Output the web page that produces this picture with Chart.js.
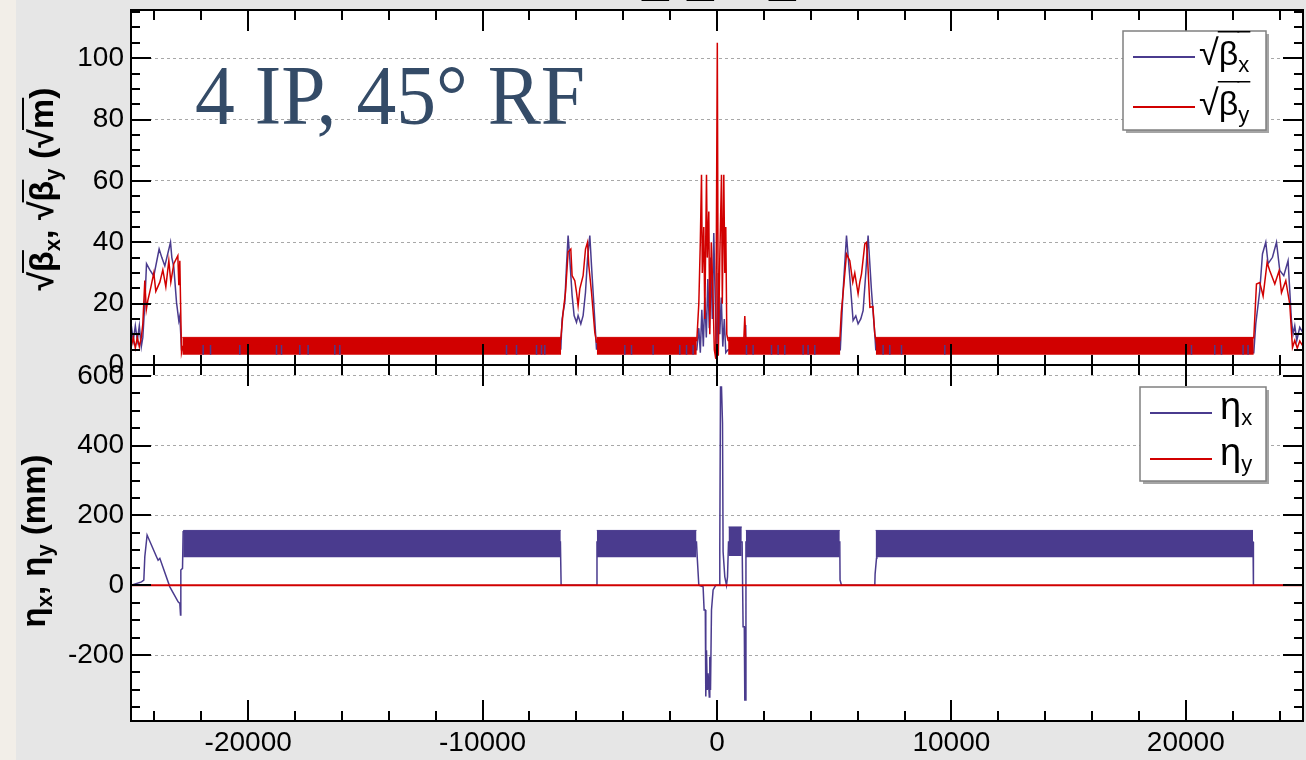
<!DOCTYPE html>
<html>
<head>
<meta charset="utf-8">
<script src="https://cdn.jsdelivr.net/npm/chart.js@4.4.1/dist/chart.umd.min.js"></script>
<style>
  html, body { margin: 0; padding: 0; }
  body { width: 1306px; height: 760px; overflow: hidden; position: relative; background: #e6e6e6; }
  #marble { position: absolute; left: 0; top: 0; width: 16px; height: 760px; background: #f2eee8; }
  canvas { position: absolute; left: 0; top: 0; }
</style>
</head>
<body>
<div id="marble"></div>
<canvas id="betaChart" width="1306" height="760"></canvas>
<canvas id="etaChart" width="1306" height="760"></canvas>
<script>
'use strict';

// ---- data (s in m) ----
var xTickLabels = [-20000, -10000, 0, 10000, 20000];
var betaTicks = [0, 20, 40, 60, 80, 100];
var etaTicks = [-200, 0, 200, 400, 600];

// sqrt(beta_x) in the insertions
var sBetaX = [-24986, -24901, -24815, -24730, -24645, -24560, -24496, -24411, -24338, -24197, -24027, -23800, -23685, -23557, -23314, -23258, -23173, -23058, -22960, -22917, -22845, -22790,
  -6664, -6608, -6493, -6420, -6352, -6280, -6181, -6096, -5994, -5926, -5810, -5712, -5610, -5524, -5426, -5354, -5243, -5141,
  -862, -776, -712, -648, -584, -520, -456, -392, -328, -264, -200, -137, -73, -9, 55, 119, 183, 247, 311, 375, 474, 1190, 1207, 1225,
  5260, 5380, 5525, 5665, 5806, 5921, 6019, 6134, 6233, 6348, 6446, 6591, 6732, 6774,
  22900, 22985, 23156, 23271, 23412, 23510, 23698, 23869, 24009, 24180, 24363, 24508, 24577, 24649, 24734, 24862, 24990];
var betaX = [12.8, 8, 12.8, 8, 12.8, 6, 9, 20, 33, 31, 29, 37.8, 35, 32.3, 40, 35, 31.8, 20.4, 14.4, 16, 5, 5,
  5.2, 15, 20.4, 32.4, 42.2, 34.6, 22.6, 16.1, 13.9, 16.1, 13.4, 16.1, 23.7, 34.6, 42.2, 32.4, 18.3, 5.2,
  5, 12, 4, 18, 6, 22, 9, 28, 12, 35, 15, 43, 20, 1, 30, 10, 22, 6, 15, 4, 5, 5, 13, 5,
  5, 24.2, 42.2, 28.6, 14.5, 16, 13.4, 15, 17.7, 30, 42.2, 24.2, 10.1, 5,
  4, 13.4, 24.2, 36.2, 40, 33, 35.1, 40, 30.8, 29.1, 34, 14.5, 10.1, 12.8, 8, 12.3, 10.6];

// sqrt(beta_y) in the insertions
var sBetaY = [-24986, -24901, -24815, -24730, -24645, -24560, -24496, -24411, -24347, -24283, -24155, -24027, -23941, -23770, -23642, -23514, -23386, -23301, -23173, -23002, -22960, -22917, -22887, -22845, -22790,
  -6664, -6566, -6463, -6352, -6237, -6181, -6066, -5994, -5926, -5853, -5712, -5610, -5524, -5469, -5354, -5213, -5141,
  -862, -776, -712, -661, -627, -563, -520, -448, -414, -350, -307, -243, -179, -115, -51, 13, 55, 119, 192, 226, 290, 333, 375, 418, 474, 1143, 1186, 1229,
  5239, 5303, 5410, 5525, 5601, 5665, 5793, 5878, 6019, 6092, 6165, 6306, 6378, 6434, 6523, 6651, 6732, 6804,
  22900, 23015, 23156, 23298, 23469, 23583, 23797, 23980, 24082, 24266, 24436, 24551, 24649, 24756, 24862, 24990];
var betaY = [6, 9, 5.5, 9, 6, 9, 13.3, 27.5, 18, 21, 25.3, 30, 24, 27, 31, 25.5, 34, 27, 33, 35.6, 26, 34, 20.9, 4, 6,
  8.5, 17.2, 23.7, 36.8, 37.8, 29.1, 27.5, 23.7, 19.3, 24.8, 29.1, 37.8, 40, 32.4, 23.7, 10.6, 7.4,
  8, 20, 40, 62, 30, 45, 15, 62, 35, 50, 10, 40, 25, 5, 2, 105, 3, 35, 62, 20, 62, 30, 45, 10, 8, 8, 16, 8,
  8, 17.2, 26, 36.2, 35, 34, 27, 30, 23.2, 27, 29.7, 39.5, 40, 33, 18.8, 19, 10.1, 7,
  8.9, 26.4, 26.9, 22.5, 33.4, 30.7, 26.4, 30.7, 23.6, 27.5, 19.8, 5.7, 8, 5.5, 7.8, 6.2];

// arc cells: sqrt(beta) oscillates inside a band
var betaBandStart = [-22810, -5128, 474, 6774];
var betaBandEnd = [-6650, -862, 5260, 22900];
var betaBandLow = 3.3;
var betaBandHigh = 9.0;
var betaXMarkTop = 6.5;
var betaXMarks = [-21923, -21607, -20358, -18792, -18579, -17798, -17444, -16305, -16092, -8980, -8553, -7700, -7487, -7346,
  -3933, -3647, -2726, -1587, -1301, -1020, 1258, 1540, 2325, 2607, 2892, 3673, 3886, 4172,
  7086, 7372, 7871, 9718, 20242, 21236, 21522, 22443, 22656];

// eta_x (mm)
var sEtaX = [-25000, -24551, -24453, -24411, -24313, -23912, -23844, -23770, -23343, -22989, -22917, -22887, -22874, -22802, -22776,
  -6680, -6650, -5140, -5120, -875, -840, -776, -593, -550, -499, -478, -448, -414, -380, -328, -307, -277, -235, -166, -94, -51,
  90, 119, 149, 192, 235, 260, 290, 333, 405, 448, 491, 1071, 1113, 1165, 1186, 1220, 1235,
  5239, 5250, 5311, 6732, 6745, 6804, 6820, 22867, 22885, 25000];
var etaX = [0, 9.7, 14.9, 81.6, 143.8, 81.6, 71.6, 77, -4.6, -47.6, -52, -85.4, 43.5, 48.3, 153,
  124, 0, 0, 124, 124, 76, 0, -4.3, -71, -71, -319, -186, -300, -252, -320, -205, -300, -71, -13.7, -4.6, 0,
  0, 110, 568, 568, 464, 96, 96, 24, 0, 24, 124, 124, -119, -119, -329, -329, 124,
  124, 14.9, 0, 0, 32, 77, 124, 124, 0, 0];
var etaBandStart = [-22776, -5128, 491, 1229, 6767];
var etaBandEnd = [-6664, -875, 1058, 5239, 22867];
var etaBandLow = [80, 80, 84, 80, 80];
var etaBandHigh = [157, 157, 167, 157, 157];

// eta_y (mm)
var sEtaY = [-25000, 25000];
var etaY = [0, 0];

// ---- styling ----
var BLUE = '#4a3b8e';
var RED = '#d10000';
var SANS = '"Liberation Sans", Arial, sans-serif';

function pts(xs, ys) {
	return xs.map(function (x, i) { return {x: x, y: ys[i]}; });
}

function drawRich(ctx, parts, x, y) {
	parts.forEach(function (p) {
		ctx.font = p.f;
		var w = ctx.measureText(p.t).width;
		if (p.bar) {
			ctx.fillRect(x - 1, y - p.bar, w + 2, p.lw || 2);
		}
		ctx.fillText(p.t, x, y + (p.dy || 0));
		x += w;
	});
	return x;
}

function richWidth(ctx, parts) {
	var w = 0;
	parts.forEach(function (p) { ctx.font = p.f; w += ctx.measureText(p.t).width; });
	return w;
}

function noPad(s) {
	s.paddingTop = 0; s.paddingBottom = 0; s.paddingLeft = 0; s.paddingRight = 0;
}

// white plot area, frame, inward ticks, axis title, legend box
var rootFrame = {
	id: 'rootFrame',
	beforeDraw: function (chart) {
		var a = chart.chartArea, ctx = chart.ctx;
		ctx.save();
		ctx.fillStyle = '#fff';
		ctx.fillRect(a.left, a.top, a.right - a.left, a.bottom - a.top);
		ctx.restore();
	},
	afterDraw: function (chart, args, o) {
		var a = chart.chartArea, ctx = chart.ctx, x = chart.scales.x, y = chart.scales.y, v, p, len;
		ctx.save();
		ctx.strokeStyle = '#000';
		ctx.lineWidth = 2;
		ctx.beginPath();
		for (v = Math.ceil(y.min / o.yMinor) * o.yMinor; v <= y.max; v += o.yMinor) {
			p = Math.round(y.getPixelForValue(v));
			len = Math.abs(v % o.yMajor) < 1e-6 ? 20 : 9;
			ctx.moveTo(a.left, p); ctx.lineTo(a.left + len, p);
			ctx.moveTo(a.right, p); ctx.lineTo(a.right - len, p);
		}
		for (v = Math.ceil(x.min / o.xMinor) * o.xMinor; v <= x.max; v += o.xMinor) {
			p = Math.round(x.getPixelForValue(v));
			len = Math.abs(v % o.xMajor) < 1e-6 ? 21 : 10;
			ctx.moveTo(p, a.top); ctx.lineTo(p, a.top + len);
			ctx.moveTo(p, a.bottom); ctx.lineTo(p, a.bottom - len);
		}
		ctx.stroke();
		ctx.strokeRect(a.left, a.top, a.right - a.left, a.bottom - a.top);

		// rotated axis title
		ctx.fillStyle = '#000';
		ctx.textBaseline = 'alphabetic';
		ctx.translate(o.titleX, o.titleY);
		ctx.rotate(-Math.PI / 2);
		drawRich(ctx, o.title, -richWidth(ctx, o.title) / 2, 0);
		ctx.setTransform(1, 0, 0, 1, 0, 0);

		// legend box
		var b = o.legendBox;
		ctx.fillStyle = '#a5a5a5';
		ctx.fillRect(b[0] + 3, b[1] + 3, b[2] - b[0], b[3] - b[1]);
		ctx.fillStyle = '#fff';
		ctx.fillRect(b[0], b[1], b[2] - b[0], b[3] - b[1]);
		ctx.strokeStyle = '#808080';
		ctx.lineWidth = 1.5;
		ctx.strokeRect(b[0], b[1], b[2] - b[0], b[3] - b[1]);
		o.legendRows.forEach(function (r) {
			ctx.strokeStyle = r.color;
			ctx.lineWidth = 2;
			ctx.beginPath();
			ctx.moveTo(b[0] + 10, r.y); ctx.lineTo(b[0] + 72, r.y);
			ctx.stroke();
			ctx.fillStyle = '#000';
			drawRich(ctx, r.parts, r.tx, r.y + r.base);
		});
		ctx.restore();
		if (o.extra) o.extra(ctx);
	}
};

function lineSet(data, color, order, width) {
	return {data: data, borderColor: color, backgroundColor: color, borderWidth: width || 1.5,
		pointRadius: 0, fill: false, tension: 0, spanGaps: false, order: order};
}

var B34 = 'bold 34px ' + SANS, B33 = 'bold 33px ' + SANS, B22 = 'bold 22px ' + SANS;
var R34 = '34px ' + SANS, R22 = '22px ' + SANS, R38 = '38px ' + SANS, R36 = '36px ' + SANS;

// ---- top panel: sqrt(beta) ----
var betaSets = [];
betaSets.push(lineSet(pts(sBetaX, betaX), BLUE, 4));
betaBandStart.forEach(function (s, i) {
	var d = lineSet([{x: s, y: betaBandHigh}, {x: betaBandEnd[i], y: betaBandHigh}], RED, 3, 1);
	d.fill = {value: betaBandLow};
	betaSets.push(d);
});
betaSets.push(lineSet(pts(sBetaY, betaY), RED, 2));
betaSets.push(lineSet(betaXMarks.reduce(function (acc, s) {
	return acc.concat([{x: s, y: betaBandLow}, {x: s, y: betaXMarkTop}, {x: s, y: null}]);
}, []), BLUE, 1, 1.5));

new Chart(document.getElementById('betaChart'), {
	type: 'line',
	data: {datasets: betaSets},
	plugins: [rootFrame],
	options: {
		responsive: false,
		animation: false,
		devicePixelRatio: 1,
		layout: {padding: {left: 16, top: 10, right: 3, bottom: 395}},
		plugins: {
			legend: {display: false},
			tooltip: {enabled: false},
			rootFrame: {
				yMinor: 5, yMajor: 20, xMinor: 2000, xMajor: 10000,
				titleX: 53, titleY: 189,
				title: [{t: '√', f: B34}, {t: 'β', f: B34, bar: 31}, {t: 'x', f: B22, dy: 7}, {t: ', ', f: B34},
					{t: '√', f: B34}, {t: 'β', f: B34, bar: 31}, {t: 'y', f: B22, dy: 7}, {t: ' (', f: B34},
					{t: '√', f: B34}, {t: 'm', f: B34, bar: 31}, {t: ')', f: B34}],
				legendBox: [1123, 31, 1266, 130],
				legendRows: [
					{color: BLUE, y: 57, tx: 1199, base: 8, parts: [{t: '√', f: R36}, {t: 'β', f: R34, bar: 34, lw: 1.5}, {t: 'x', f: R22, dy: 7, bar: 34, lw: 1.5}]},
					{color: RED, y: 107, tx: 1199, base: 8, parts: [{t: '√', f: R36}, {t: 'β', f: R34, bar: 34, lw: 1.5}, {t: 'y', f: R22, dy: 7, bar: 34, lw: 1.5}]}
				],
				extra: function (ctx) {
					ctx.save();
					ctx.fillStyle = '#344b67';
					ctx.textBaseline = 'alphabetic';
					ctx.font = '84px "Liberation Serif", "Times New Roman", serif';
					ctx.fillText('4 IP, 45° RF', 195, 124, 390);
					// cut-off slide title
					ctx.fillStyle = '#000';
					ctx.font = 'bold 48px ' + SANS;
					ctx.fillText('_', 642, -5);
					ctx.fillText('_', 687, -5);
					ctx.fillText('_', 769, -5);
					ctx.restore();
				}
			}
		},
		scales: {
			x: {type: 'linear', min: -25000, max: 25000, display: false},
			y: {
				min: 0, max: 115.7,
				afterBuildTicks: function (s) { s.ticks = betaTicks.map(function (v) { return {value: v}; }); },
				afterFit: function (s) { s.width = 115; noPad(s); },
				ticks: {padding: 7, color: '#000', font: {family: SANS, size: 28},
					callback: function (v) { return String(v); }},
				grid: {color: '#a8a8a8', lineWidth: 1, drawTicks: false},
				border: {display: false, dash: [3, 3]}
			}
		}
	}
});

// ---- bottom panel: dispersion ----
var etaSets = [];
etaSets.push(lineSet(pts(sEtaX, etaX), BLUE, 3));
etaBandStart.forEach(function (s, i) {
	var d = lineSet([{x: s, y: etaBandHigh[i]}, {x: etaBandEnd[i], y: etaBandHigh[i]}], BLUE, 2, 1);
	d.fill = {value: etaBandLow[i]};
	etaSets.push(d);
});
etaSets.push(lineSet(pts(sEtaY, etaY), RED, 1, 2));

new Chart(document.getElementById('etaChart'), {
	type: 'line',
	data: {datasets: etaSets},
	plugins: [rootFrame],
	options: {
		responsive: false,
		animation: false,
		devicePixelRatio: 1,
		layout: {padding: {left: 16, top: 365, right: 3, bottom: 0}},
		plugins: {
			legend: {display: false},
			tooltip: {enabled: false},
			rootFrame: {
				yMinor: 50, yMajor: 200, xMinor: 2000, xMajor: 10000,
				titleX: 45, titleY: 541,
				title: [{t: 'η', f: B33}, {t: 'x', f: B22, dy: 7}, {t: ', ', f: B33},
					{t: 'η', f: B33}, {t: 'y', f: B22, dy: 7}, {t: ' (mm)', f: B33}],
				legendBox: [1140, 387, 1266, 481],
				legendRows: [
					{color: BLUE, y: 413, tx: 1220, base: 6, parts: [{t: 'η', f: R38}, {t: 'x', f: R22, dy: 6}]},
					{color: RED, y: 459, tx: 1220, base: 6, parts: [{t: 'η', f: R38}, {t: 'y', f: R22, dy: 6}]}
				]
			}
		},
		scales: {
			x: {
				type: 'linear', min: -25000, max: 25000,
				afterBuildTicks: function (s) { s.ticks = xTickLabels.map(function (v) { return {value: v}; }); },
				afterFit: function (s) { s.height = 39; noPad(s); },
				ticks: {padding: 5, color: '#000', font: {family: SANS, size: 28},
					autoSkip: false, maxRotation: 0,
					callback: function (v) { return String(v); }},
				grid: {display: false, drawTicks: false},
				border: {display: false}
			},
			y: {
				min: -389, max: 631,
				afterBuildTicks: function (s) { s.ticks = etaTicks.map(function (v) { return {value: v}; }); },
				afterFit: function (s) { s.width = 115; noPad(s); },
				ticks: {padding: 7, color: '#000', font: {family: SANS, size: 28},
					callback: function (v) { return String(v); }},
				grid: {color: '#a8a8a8', lineWidth: 1, drawTicks: false},
				border: {display: false, dash: [3, 3]}
			}
		}
	}
});
</script>
</body>
</html>
